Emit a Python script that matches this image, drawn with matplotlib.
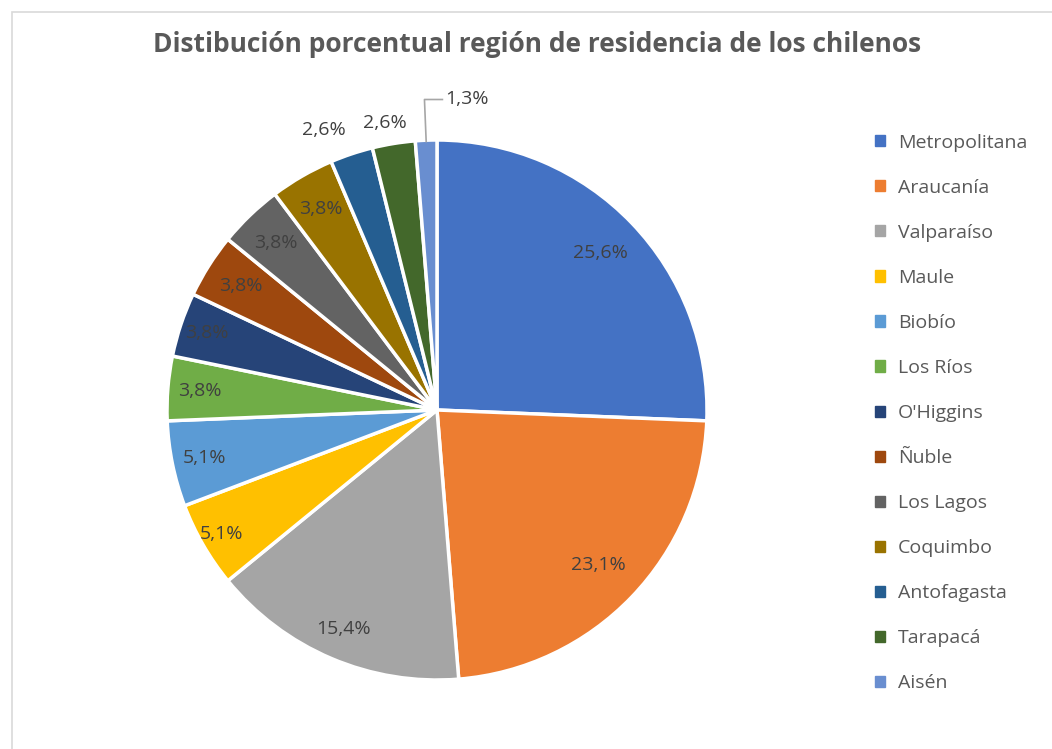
import matplotlib.pyplot as plt
import matplotlib.patches as mpatches
import numpy as np

# Data
regions = ['Metropolitana', 'Araucanía', 'Valparaíso', 'Maule', 'Biobío', 'Los Ríos',
           "O'Higgins", 'Ñuble', 'Los Lagos', 'Coquimbo', 'Antofagasta', 'Tarapacá', 'Aisén']
counts = [20, 18, 12, 4, 4, 3, 3, 3, 3, 3, 2, 2, 1]
colors = ['#4472C4', '#ED7D31', '#A5A5A5', '#FFC000', '#5B9BD5', '#70AD47',
          '#264478', '#9E480E', '#636363', '#997300', '#255E91', '#43682B', '#698ED0']

plt.rcParams['font.family'] = ['Open Sans', 'DejaVu Sans']

fig = plt.figure(figsize=(10.52, 7.49), dpi=100)

# chart border (light frame at top/left like the Excel chart area)
fig.patches.append(mpatches.Rectangle((12 / 1052, -0.02), 1.1, (749 - 12) / 749 + 0.02,
                                      transform=fig.transFigure, fill=False,
                                      edgecolor='#D9D9D9', linewidth=1.2))

fig.text(537 / 1052, 1 - 45 / 749, 'Distibución porcentual región de residencia de los chilenos',
         ha='center', va='center', fontsize=19, fontweight='bold', color='#595959')

# pie axes: centre (437, 410), radius 270 px
r = 270
cx, cy = 437, 410
ax = fig.add_axes([(cx - r) / 1052, 1 - (cy + r) / 749, 2 * r / 1052, 2 * r / 749])
wedges, _ = ax.pie(counts, colors=colors, startangle=90, counterclock=False,
                   wedgeprops=dict(edgecolor='white', linewidth=2.5))
ax.set_xlim(-1, 1)
ax.set_ylim(-1, 1)
ax.set_aspect('equal')

total = sum(counts)
# label radius and small angle nudge (deg) per slice
label_r = [0.84, 0.83, 0.88, 0.92, 0.88, 0.88, 0.9, 0.86, 0.86, 0.86, 1.12, 1.08, 1.12]
label_da = [0, 0, 0, 0, 0, 0, 0, 0, 0, 0, 3.5, 1, 0]
for w, c, lr, da in zip(wedges, counts, label_r, label_da):
    ang = np.deg2rad((w.theta1 + w.theta2) / 2 + da)
    pct = f'{100 * c / total:.1f}'.replace('.', ',') + '%'
    x, y = lr * np.cos(ang), lr * np.sin(ang)
    if c == 1:
        # leader line for the smallest slice
        ax.plot([0.995 * np.cos(ang), 1.03 * np.cos(ang) - 0.005, 0.02],
                [0.995 * np.sin(ang), 1.15, 1.15], color='#A6A6A6', lw=1.2, clip_on=False)
        ax.text(0.03, 1.15, pct, ha='left', va='center', fontsize=14, color='#404040')
    else:
        ax.text(x, y, pct, ha='center', va='center', fontsize=14, color='#404040')

# legend
handles = [mpatches.Patch(color=c) for c in colors]
fig.legend(handles, regions, loc='upper left', bbox_to_anchor=(867 / 1052, 1 - 126 / 749),
           frameon=False, fontsize=14, labelcolor='#595959', handlelength=0.5,
           handleheight=0.5, handletextpad=0.7, labelspacing=1.39, borderaxespad=0)

fig.savefig('out.png', dpi=100, facecolor='white')
